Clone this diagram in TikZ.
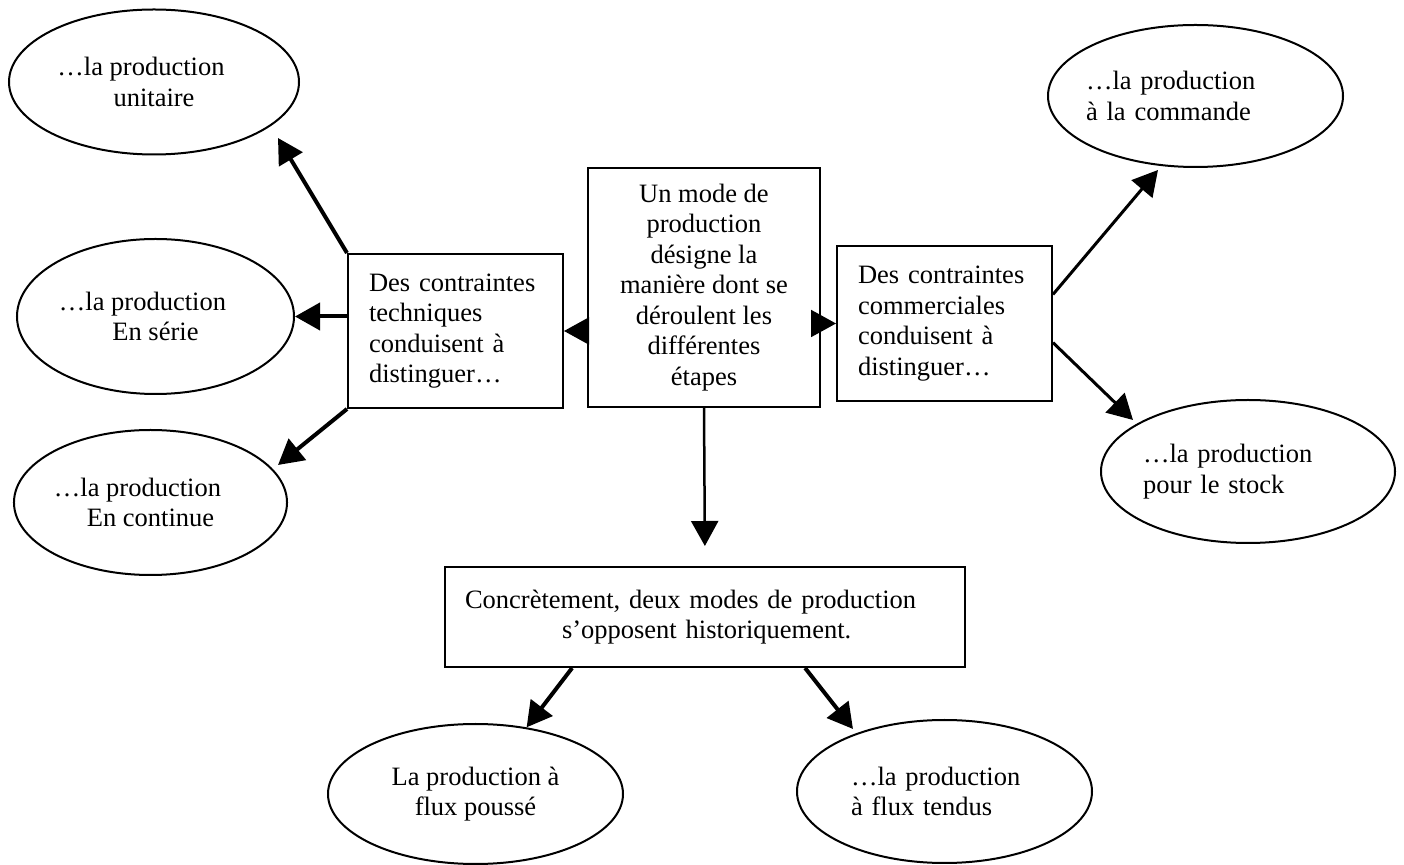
\documentclass[tikz,border=0pt]{standalone}
\usepackage{fontspec}
\setmainfont{Liberation Serif}
\usetikzlibrary{shapes.geometric,arrows.meta}

\def\fontsz{\fontsize{13.25pt}{15.25pt}\selectfont}
\def\pad{\hspace*{13pt}}

\begin{document}
\begin{tikzpicture}[
    x=0.5pt, y=-0.5pt,
    every node/.style={font=\fontsz},
    box/.style={rectangle, draw=black, line width=1pt, inner sep=0pt},
    text box/.style={box, text width=86.5pt, inner xsep=10.5pt, align=left,
                     minimum width=107.5pt, minimum height=77pt},
    bulle/.style={ellipse, draw=black, line width=1pt, inner sep=0pt, align=center},
    bulle gauche/.style={bulle, text width=#1, align=left, inner xsep=-30pt},
    fleche/.style={-{Triangle[length=12.5pt,width=13.5pt]}, line width=#1},
    fleche/.default=1pt
]
    \useasboundingbox (0,0) rectangle (1404,865);

    % Draw the central box
    \node[box, align=center, minimum width=116pt, minimum height=119.5pt] (M) at (704,287.5)
        {Un mode de\\production\\désigne la\\manière dont se\\déroulent les\\différentes\\étapes};

    % Draw the two side boxes
    \node[text box] (T) at (455.5,331) {Des contraintes\\techniques\\conduisent à\\distinguer…};
    \node[text box, minimum height=77.5pt] (C) at (944.5,323.5) {Des contraintes\\commerciales\\conduisent à\\distinguer…};

    % Draw the bottom box
    \node[box, text width=240pt, inner xsep=10pt, align=left, minimum width=260pt, minimum height=50pt] (B) at (705,617)
        {Concrètement, deux modes de production\\\hspace*{48.5pt}s’opposent historiquement.};

    % Draw the ellipses on the left
    \node[bulle, minimum width=145pt, minimum height=72.5pt] (E-unit) at (154,82) {…la production\pad\\unitaire};
    \node[bulle, minimum width=138.5pt, minimum height=77.5pt] (E-serie) at (155.5,316.5) {…la production\pad\\En série};
    \node[bulle, minimum width=132.5pt, minimum height=72.5pt] (E-cont) at (150.5,502.5) {…la production\pad\\En continue};

    % Draw the ellipses on the right
    \node[bulle gauche=109.5pt, minimum width=147.5pt, minimum height=71pt] (E-cmd) at (1195.5,96) {…la production\\à la commande};
    \node[bulle gauche=105pt, minimum width=147pt, minimum height=71.5pt] (E-stock) at (1248,471.5) {…la production\\pour le stock};

    % Draw the ellipses at the bottom
    \node[bulle, minimum width=147.5pt, minimum height=70pt] (E-push) at (475.5,794) {La production à\\flux poussé};
    \node[bulle gauche=93.5pt, minimum width=147.5pt, minimum height=71.5pt] (E-tend) at (944.5,791.5) {…la production\\à flux tendus};

    % Arrow tips that stop short of the ellipses
    \coordinate (t-unit) at (278,138);
    \coordinate (t-cont) at (278,465);
    \coordinate (t-cmd) at (1158,170);
    \coordinate (t-stock) at (1133,420);
    \coordinate (t-tend) at (853,729);

    % Connect the central box with the other boxes
    \draw[fleche] (M.west |- T.east) -- (T.east);
    \draw[fleche] (M.east |- C.west) -- (C.west);
    \draw[fleche=1.25pt, shorten >=10pt] (M.south) -- (B.north);

    % Connect the side boxes with their ellipses
    \draw[fleche=2pt] (T.north west) -- (t-unit);
    \draw[fleche=2pt] (T.west |- E-serie.east) -- (E-serie.east);
    \draw[fleche=2pt] (T.south west) -- (t-cont);
    \draw[fleche=1.5pt] (C.15) -- (t-cmd);
    \draw[fleche=1.5pt] (C.-10) -- (t-stock);

    % Connect the bottom box with its ellipses
    \draw[fleche=2pt] (B.201) -- (E-push);
    \draw[fleche=2pt] (B.-27) -- (t-tend);
\end{tikzpicture}
\end{document}
